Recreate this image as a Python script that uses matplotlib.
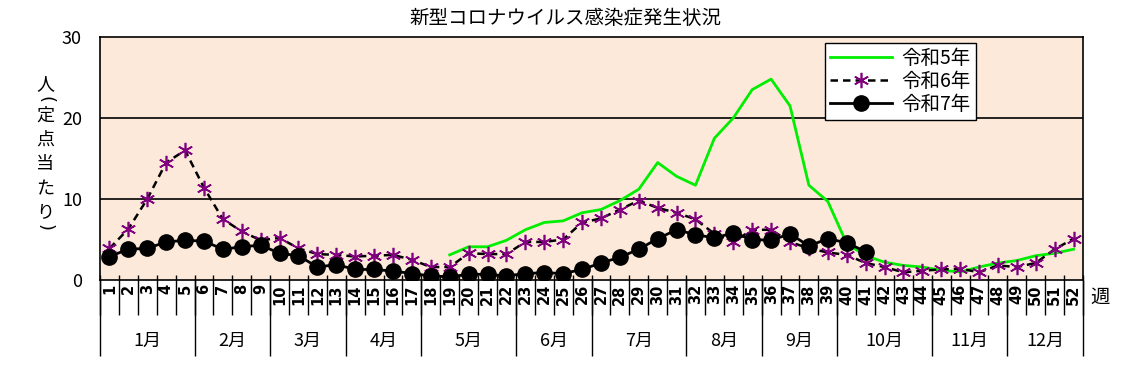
import numpy as np
import matplotlib
matplotlib.use('Agg')
import matplotlib.pyplot as plt
import matplotlib.transforms as mtrans

plt.rcParams['font.family'] = ['Noto Sans CJK JP', 'DejaVu Sans']

weeks = np.arange(1, 53)

# 令和5年 (starts at week 19)
r5 = [3.1, 4.1, 4.1, 4.9, 6.2, 7.1, 7.3, 8.3, 8.7, 9.8,
      11.2, 14.5, 12.8, 11.7, 17.5, 20.0, 23.5, 24.8, 21.5, 11.7,
      9.7, 4.5, 3.0, 2.2, 1.8, 1.6, 1.2, 1.0, 1.6, 2.1,
      2.4, 3.0, 3.3, 3.8]
r5_start = 19

r6 = [3.9, 6.3, 10.0, 14.5, 16.0, 11.4, 7.5, 6.0, 4.9, 5.2,
      3.9, 3.2, 3.1, 2.9, 3.0, 3.1, 2.5, 1.6, 1.6, 3.3,
      3.2, 3.2, 4.7, 4.7, 5.0, 7.1, 7.6, 8.7, 9.8, 8.9,
      8.3, 7.5, 5.7, 4.7, 6.2, 6.2, 4.7, 3.9, 3.4, 3.1,
      2.1, 1.6, 0.95, 1.15, 1.3, 1.4, 0.95, 1.8, 1.6, 2.1,
      3.8, 5.1]

r7 = [2.9, 3.8, 3.9, 4.7, 4.9, 4.8, 3.8, 4.1, 4.3, 3.3,
      3.0, 1.6, 1.9, 1.3, 1.3, 1.1, 0.8, 0.5, 0.4, 0.7,
      0.7, 0.5, 0.8, 0.9, 0.8, 1.3, 2.1, 2.8, 3.8, 5.1,
      6.2, 5.6, 5.2, 5.8, 5.0, 4.9, 5.7, 4.2, 5.1, 4.6,
      3.5]

months = ['1月', '2月', '3月', '4月', '5月', '6月',
          '7月', '8月', '9月', '10月', '11月', '12月']
weeks_per_month = [5, 4, 4, 4, 5, 4, 5, 4, 4, 5, 4, 4]

# vertical y label, parentheses drawn turned a quarter turn
ylabel_chars = ['人', '(', '定', '点', '当', 'た', 'り', ')']

fig = plt.figure(figsize=(11.31, 3.92), dpi=100)
ax = fig.add_axes([100 / 1131, 112 / 392, 983 / 1131, 243 / 392])
ax.set_facecolor('#FDE9D9')

ax.plot(np.arange(r5_start, r5_start + len(r5)), r5, color='#00EE00',
        lw=2, label='令和5年', zorder=3)
ax.plot(weeks[:len(r6)], r6, color='black', ls=(0, (3, 2)), lw=1.8,
        marker=(6, 2, 0), ms=11, mec='#800080', mew=1.2,
        label='令和6年', zorder=4)
ax.plot(weeks[:len(r7)], r7, color='black', lw=2, marker='o', ms=11,
        mfc='black', mec='black', label='令和7年', zorder=5)

ax.set_xlim(0.5, 52.5)
ax.set_ylim(0, 30)
ax.set_yticks([0, 10, 20, 30])
for y in [10, 20]:
    ax.axhline(y, color='black', lw=1.2, zorder=1)
for s in ax.spines.values():
    s.set_linewidth(1.2)

ax.tick_params(axis='y', length=0, pad=13, labelsize=13)
ax.set_xticks(weeks)
ax.set_xticklabels([str(w) for w in weeks], rotation=90, fontsize=10.5,
                   fontweight='bold', family='DejaVu Sans')
ax.tick_params(axis='x', length=0, pad=3)

# table under the axis
tr = mtrans.blended_transform_factory(ax.transData, ax.transAxes)
bounds = np.arange(0.5, 53.5, 1.0)
ax.vlines(bounds, -35 / 243, 5 / 243, transform=tr, color='black',
          lw=1, clip_on=False)
edges = np.concatenate([[0.5], 0.5 + np.cumsum(weeks_per_month)])
ax.vlines(edges, -76 / 243, 0, transform=tr, color='black', lw=1,
          clip_on=False)
for i, m in enumerate(months):
    ax.text((edges[i] + edges[i + 1]) / 2, -61 / 243, m, transform=tr,
            ha='center', va='center', fontsize=13)
ax.text(53.4, -17 / 243, '週', transform=tr, ha='center', va='center',
        fontsize=14)

leg = ax.legend(loc='upper left', bbox_to_anchor=(0.7375, 0.975),
                borderaxespad=0, fancybox=False, framealpha=1,
                edgecolor='black', fontsize=14, handlelength=3.2,
                labelspacing=0.1, borderpad=0.25, handletextpad=0.5)
leg.get_frame().set_linewidth(1.0)

fig.text(565 / 1131, 1 - 18 / 392, '新型コロナウイルス感染症発生状況',
         ha='center', va='center', fontsize=14)
ylab_y = [84, 99, 116, 140, 164, 189, 212, 228]
for ch, yy in zip(ylabel_chars, ylab_y):
    rot = -90 if ch in '()' else 0
    fig.text(45 / 1131, 1 - yy / 392, ch, ha='center', va='center',
             fontsize=13, rotation=rot, family='DejaVu Sans' if rot else None)

fig.savefig('out.png', dpi=100)
